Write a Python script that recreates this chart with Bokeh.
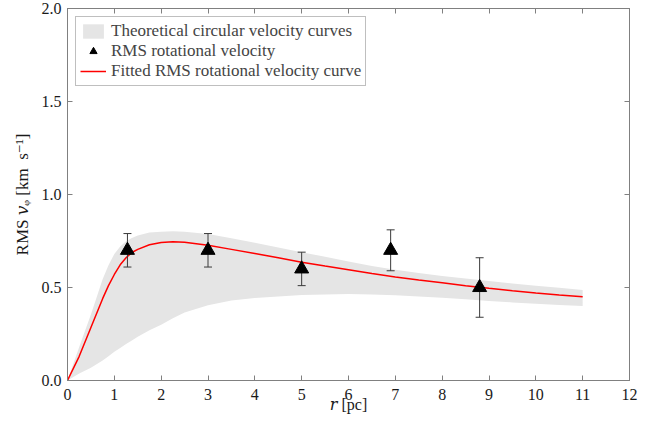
from bokeh.plotting import figure
from bokeh.models import (Range1d, FixedTicker, LinearAxis, Legend,
                          CustomJSTickFormatter, NumeralTickFormatter)
from bokeh.embed import file_html
from bokeh.resources import INLINE

# ---- data ----
r_grid = [0, 0.25, 0.5, 0.75, 0.875, 1, 1.125, 1.25, 1.375, 1.5, 1.75, 2,
          2.25, 2.5, 3, 3.5, 4, 4.5, 5, 5.5, 6, 6.5, 7, 7.5, 8, 8.5, 9, 9.5,
          10, 10.5, 11]
v_fit = [0, 0.13, 0.285, 0.44, 0.51, 0.57, 0.622, 0.66, 0.688, 0.705, 0.73,
         0.742, 0.746, 0.743, 0.727, 0.705, 0.683, 0.66, 0.636, 0.615, 0.595,
         0.575, 0.556, 0.54, 0.525, 0.51, 0.496, 0.483, 0.471, 0.46, 0.45]
v_upper = [0, 0.18, 0.355, 0.545, 0.62, 0.68, 0.72, 0.748, 0.766, 0.78,
           0.796, 0.80, 0.802, 0.80, 0.788, 0.765, 0.74, 0.715, 0.69, 0.665,
           0.64, 0.615, 0.595, 0.578, 0.562, 0.548, 0.535, 0.522, 0.51,
           0.498, 0.487]
v_lower = [0, 0.037, 0.068, 0.108, 0.13, 0.155, 0.175, 0.196, 0.215, 0.235,
           0.27, 0.30, 0.335, 0.365, 0.405, 0.43, 0.443, 0.452, 0.46, 0.463,
           0.465, 0.462, 0.458, 0.452, 0.445, 0.437, 0.428, 0.42, 0.413,
           0.406, 0.40]
r_obs = [1.28, 3.0, 5.0, 6.9, 8.8]
v_obs = [0.70, 0.70, 0.60, 0.70, 0.50]
v_err = [0.09, 0.09, 0.09, 0.11, 0.16]
x_ticks = list(range(0, 13))
y_ticks = [0, 0.5, 1.0, 1.5, 2.0]

FONT = "'Liberation Serif', 'Times New Roman', 'DejaVu Serif', serif"
AX = "#808080"

p = figure(width=660, height=426, output_backend="svg", toolbar_location=None,
           x_range=Range1d(0, 12), y_range=Range1d(0, 2),
           min_border_left=67, min_border_right=31, min_border_top=8,
           min_border_bottom=46)
p.grid.visible = False
p.outline_line_color = AX
p.background_fill_color = "white"

for ax, ticks in ((p.xaxis[0], x_ticks), (p.yaxis[0], y_ticks)):
    ax.ticker = FixedTicker(ticks=ticks)
    ax.axis_line_color = AX
    ax.major_tick_line_color = AX
    ax.major_tick_in = 5
    ax.major_tick_out = 0
    ax.minor_tick_line_color = None
    ax.major_label_text_font = FONT
    ax.major_label_text_font_size = "16px"
    ax.major_label_text_color = "#1a1a1a"
    ax.axis_label_text_font = FONT
    ax.axis_label_text_font_style = "normal"
    ax.axis_label_text_color = "#1a1a1a"
p.yaxis[0].formatter = NumeralTickFormatter(format="0.0")
p.xaxis[0].major_label_standoff = 8
p.yaxis[0].major_label_standoff = 6
p.xaxis[0].axis_label = "\U0001D45F [pc]"
p.xaxis[0].axis_label_text_font_size = "16px"
p.xaxis[0].axis_label_standoff = -7
p.yaxis[0].axis_label = "RMS \U0001D463\u1D69 [km\u2002s\u207B\u00B9]"
p.yaxis[0].axis_label_text_font_size = "17px"
p.yaxis[0].axis_label_standoff = 7

blank = CustomJSTickFormatter(code="return ''")
for loc, ticks in (("right", y_ticks), ("above", x_ticks)):
    a = LinearAxis(ticker=FixedTicker(ticks=ticks), formatter=blank)
    a.axis_line_color = AX
    a.major_tick_line_color = AX
    a.major_tick_in = 5
    a.major_tick_out = 0
    a.minor_tick_line_color = None
    a.major_label_text_font_size = "0px"
    a.major_label_standoff = 0
    p.add_layout(a, loc)

band = p.varea(x=r_grid, y1=v_lower, y2=v_upper, fill_color="#e5e5e5")
fit = p.line(r_grid, v_fit, line_color="#ff0000", line_width=1.5)

lo = [v - e for v, e in zip(v_obs, v_err)]
hi = [v + e for v, e in zip(v_obs, v_err)]
p.segment(x0=r_obs, y0=lo, x1=r_obs, y1=hi, line_color="#3a3a3a", line_width=1)
p.scatter(r_obs + r_obs, lo + hi, marker="dash", size=8, line_color="#3a3a3a",
          line_width=1)
pts = p.scatter(r_obs, v_obs, marker="triangle", size=14, fill_color="black",
                line_color="black")

legend = Legend(items=[("Theoretical circular velocity curves", [band]),
                       ("RMS rotational velocity", [pts]),
                       ("Fitted RMS rotational velocity curve", [fit])],
                location="top_left", margin=8, padding=4, spacing=0,
                label_height=18, glyph_height=18, glyph_width=26,
                label_standoff=5, border_line_color=AX,
                label_text_font=FONT, label_text_font_size="17px",
                background_fill_alpha=1)
p.add_layout(legend, "center")

open("out.html", "w").write(file_html(p, INLINE))
